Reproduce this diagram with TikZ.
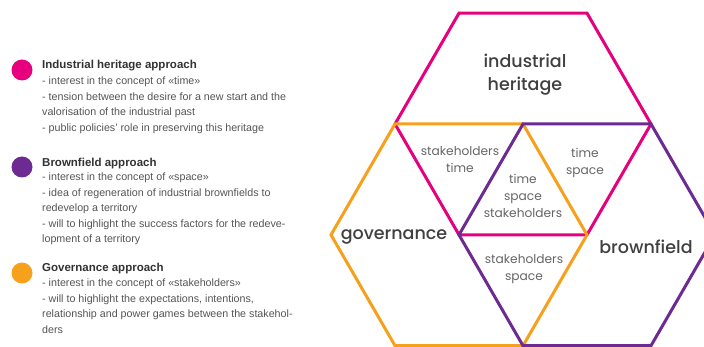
\documentclass[tikz,border=0pt]{standalone}
\usepackage{fontspec}
\setmainfont{Liberation Sans}
\newfontfamily\hexfont{Poppins Medium}
\newfontfamily\tagfont{Poppins}
\usetikzlibrary{positioning}

\definecolor{ihpink}{HTML}{E6007E}
\definecolor{bfpurple}{HTML}{6C2A92}
\definecolor{govorange}{HTML}{F7A01C}
\definecolor{txtgrey}{HTML}{555555}

\begin{document}
\begin{tikzpicture}[x=1pt,y=-1pt,
    hexline/.style={line width=3pt, line join=miter},
    legenddot/.style={circle, fill=#1, minimum size=21pt, inner sep=0pt},
    head/.style={anchor=base west, inner sep=0pt, font=\fontsize{11.5}{14}\selectfont\bfseries, text=black!80},
    body/.style={anchor=north west, inner sep=0pt, align=left, font=\fontsize{10.7}{15.4}\selectfont, text=txtgrey},
    biglabel/.style={align=center, inner sep=0pt, font=\hexfont\fontsize{17.5}{23}\selectfont, text=black!75},
    smalllabel/.style={align=center, inner sep=0pt, font=\tagfont\fontsize{12.2}{17}\selectfont, text=black!60}]

        %% frame
        \useasboundingbox (0,0) rectangle (704,347);
        \fill[white] (0,0) rectangle (704,347);
        \clip (0,0) rectangle (704,347);

        %% hexagon size and centres (y points down)
        \def\R{128};
        \coordinate (ihc) at (523,124);
        \path (ihc) +(120:\R) coordinate (govc) +(60:\R) coordinate (bfc);

        %% hexagons
        \draw[hexline,ihpink] (ihc) +(0:\R) -- +(60:\R) -- +(120:\R) -- +(180:\R) -- +(240:\R) -- +(300:\R) -- cycle;
        \draw[hexline,govorange] (govc) +(0:\R) -- +(60:\R) -- +(120:\R) -- +(180:\R) -- +(240:\R) -- +(300:\R) -- cycle;
        \draw[hexline,bfpurple] (bfc) +(0:\R) -- +(60:\R) -- +(120:\R) -- +(180:\R) -- +(240:\R) -- +(300:\R) -- cycle;

        %% hexagon names
        \node[biglabel] (ihname) at (525,75) {industrial\\heritage};
        \node[biglabel] (govname) at (394,237) {governance};
        \node[biglabel] (bfname) at (646,247) {brownfield};

        %% overlaps
        \node[smalllabel] (ihgov) at (460,160) {stakeholders\\time};
        \node[smalllabel] (ihbf) at (585,163) {time\\space};
        \node[smalllabel] (allthree) at (523,196) {time\\space\\stakeholders};
        \node[smalllabel] (govbf) at (524,269) {stakeholders\\space};

        %% legend
        \node[legenddot=ihpink] (ihdot) at (22,70) {};
        \node[head] (ihhead) at (42,68.5) {Industrial heritage approach};
        \node[body] (ihbody) at (42,77) {- interest in the concept of «time»\\- tension between the desire for a new start and the\\valorisation of the industrial past\\- public policies' role in preserving this heritage};

        \node[legenddot=bfpurple] (bfdot) at (22,167) {};
        \node[head] (bfhead) at (42,166.5) {Brownfield approach};
        \node[body] (bfbody) at (42,173) {- interest in the concept of «space»\\- idea of regeneration of industrial brownfields to\\redevelop a territory\\- will to highlight the success factors for the redeve-\\lopment of a territory};

        \node[legenddot=govorange] (govdot) at (22,273) {};
        \node[head] (govhead) at (42,271.5) {Governance approach};
        \node[body] (govbody) at (42,279) {- interest in the concept of «stakeholders»\\- will to highlight the expectations, intentions,\\relationship and power games between the stakehol-\\ders};
    \end{tikzpicture}
\end{document}
